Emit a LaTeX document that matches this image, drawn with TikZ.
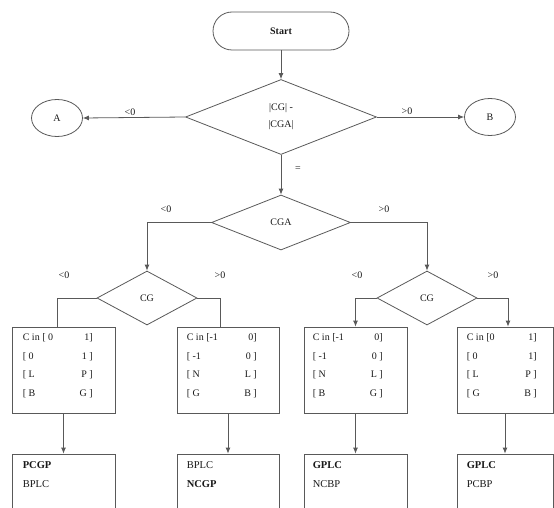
\documentclass[tikz,border=0pt]{standalone}
\usepackage{fontspec}
\setmainfont{Liberation Serif}
\usetikzlibrary{shapes.geometric,arrows.meta,calc}
\newcommand\brow[2]{\hbox to 70pt{#1\hfill #2}}
\begin{document}
\begin{tikzpicture}[x=1pt,y=-1pt,
  ln/.style={draw=black!65, line width=0.8pt},
  arr/.style={ln,-{Latex[length=6pt,width=5pt]}},
  lbl/.style={font=\fontsize{10}{12}\selectfont, text=black!90, inner sep=0pt},
  dia/.style={diamond, ln, inner sep=0pt, text=black!90, align=center, font=\fontsize{10}{17}\selectfont},
  bx/.style={rectangle, ln, inner sep=0pt},
  txt/.style={inner sep=0pt, align=left, text=black!90, font=\fontsize{10}{18.6}\selectfont},
  res/.style={inner sep=0pt, align=left, text=black!90, font=\fontsize{10.5}{19}\selectfont},
  circ/.style={ellipse, ln, inner sep=0pt, minimum width=51pt, minimum height=37pt, text=black!90, font=\fontsize{10}{12}\selectfont}
]
\useasboundingbox (0,0) rectangle (554,508);

% top
\node[ln, rounded corners=19pt, minimum width=136pt, minimum height=38pt, inner sep=0pt,
      text=black!90, font=\fontsize{10}{12}\selectfont\bfseries] (start) at (281,31) {Start};
\node[dia, minimum width=191pt, minimum height=75pt] (d1) at (281,117) {|CG| -\\|CGA|};
\node[circ] (A) at (57,118) {A};
\node[circ] (B) at (490,117) {B};

\draw[arr] (start.south) -- (d1.north);
\draw[arr] (d1.west) -- (A.east);
\draw[arr] (d1.east) -- (B.west);
\node[lbl] (lA) at (130,112) {<0};
\node[lbl] (lB) at (407,111) {>0};

% CGA
\node[dia, minimum width=139pt, minimum height=55pt] (cga) at (281,222.5) {CGA};
\draw[arr] (d1.south) -- (cga.north);
\node[lbl] (leq) at (298,169) {=};

% CG diamonds
\node[dia, minimum width=100pt, minimum height=54pt] (cgL) at (147,298) {CG};
\node[dia, minimum width=100pt, minimum height=54pt] (cgR) at (427,298) {CG};
\draw[arr] (cga.west) -| (cgL.north);
\draw[arr] (cga.east) -| (cgR.north);
\node[lbl] (l1) at (166,209) {<0};
\node[lbl] (l2) at (384,209) {>0};

% boxes
\node[bx, minimum width=103pt, minimum height=86pt] (b1) at (63.5,370) {};
\node[bx, minimum width=102pt, minimum height=86pt] (b2) at (228,370) {};
\node[bx, minimum width=103pt, minimum height=86pt] (b3) at (355.5,370) {};
\node[bx, minimum width=96pt, minimum height=86pt] (b4) at (505,370) {};

\draw[ln] (cgL.west) -| ($(b1.north)+(-6.5,0)$);
\draw[ln] (cgL.east) -| ($(b2.north)+(-8,0)$);
\draw[arr] (cgR.west) -| (b3.north);
\draw[arr] (cgR.east) -| ($(b4.north)+(3,0)$);
\node[lbl] (l3) at (64,275) {<0};
\node[lbl] (l4) at (220,275) {>0};
\node[lbl] (l5) at (357,275) {<0};
\node[lbl] (l6) at (493,275) {>0};

\node[txt, anchor=north west] (t1) at ($(b1.north west)+(11,7)$)
  {\brow{C in [ 0}{1]}\\\brow{[ 0}{1 ]}\\\brow{[ L}{P ]}\\\brow{[ B}{G ]}};
\node[txt, anchor=north west] (t2) at ($(b2.north west)+(10,7)$)
  {\brow{C in [-1}{0]}\\\brow{[ -1}{0 ]}\\\brow{[ N}{L ]}\\\brow{[ G}{B ]}};
\node[txt, anchor=north west] (t3) at ($(b3.north west)+(9,7)$)
  {\brow{C in [-1}{0]}\\\brow{[ -1}{0 ]}\\\brow{[ N}{L ]}\\\brow{[ B}{G ]}};
\node[txt, anchor=north west] (t4) at ($(b4.north west)+(10,7)$)
  {\brow{C in [0}{1]}\\\brow{[ 0}{1]}\\\brow{[ L}{P ]}\\\brow{[ G}{B ]}};

% result boxes
\node[bx, minimum width=103pt, minimum height=66pt] (c1) at (63.5,487) {};
\node[bx, minimum width=102pt, minimum height=66pt] (c2) at (228,487) {};
\node[bx, minimum width=103pt, minimum height=66pt] (c3) at (355.5,487) {};
\node[bx, minimum width=96pt, minimum height=66pt] (c4) at (505,487) {};
\draw[arr] (b1.south) -- (c1.north);
\draw[arr] (b2.south) -- (c2.north);
\draw[arr] (b3.south) -- (c3.north);
\draw[arr] (b4.south) -- (c4.north);

\node[res, anchor=north west] (r1) at ($(c1.north west)+(11,8)$) {\textbf{PCGP}\\BPLC};
\node[res, anchor=north west] (r2) at ($(c2.north west)+(10,8)$) {BPLC\\\textbf{NCGP}};
\node[res, anchor=north west] (r3) at ($(c3.north west)+(9,8)$) {\textbf{GPLC}\\NCBP};
\node[res, anchor=north west] (r4) at ($(c4.north west)+(10,8)$) {\textbf{GPLC}\\PCBP};
\end{tikzpicture}
\end{document}
